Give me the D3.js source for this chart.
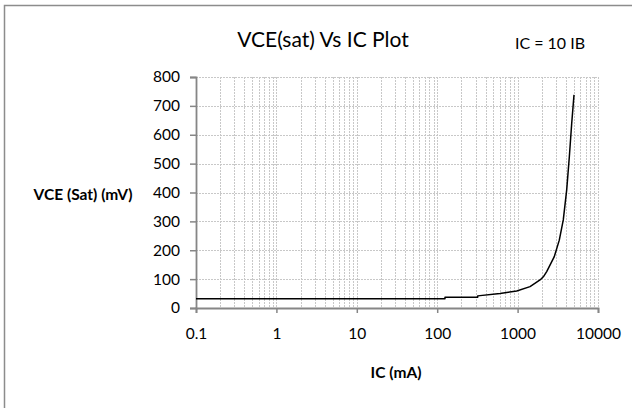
<!DOCTYPE html>
<html><head><meta charset="utf-8">
<script src="https://cdn.jsdelivr.net/npm/d3@7"></script>
<style>
html,body{margin:0;padding:0;background:#fff;}
svg{display:block;font-family:Lato,"Open Sans",sans-serif;}
</style></head>
<body>
<svg id="chart" width="632" height="408"></svg>
<script>
// Data (IC in mA, VCE(sat) in mV)
const icValues  = [0.1, 125, 125, 319, 319, 604, 975, 1427, 1900, 2090, 2300, 2860, 3300, 3700, 4080, 4400, 4710, 5030];
const vceValues = [32,  32,  37,  37,  42,  50,  59,  74,   97,   108,  126,  178,  235,  305,  409,  524,  640,  738];
const xTickLabels = ["0.1", "1", "10", "100", "1000", "10000"];
const yTickValues = [0, 100, 200, 300, 400, 500, 600, 700, 800];

const svg = d3.select("#chart");
const m = {left:196, right:598, top:77, bottom:308};

const x = d3.scaleLog().domain([0.1, 10000]).range([m.left, m.right]);
const y = d3.scaleLinear().domain([0, 800]).range([m.bottom, m.top]);

// outer frame
svg.append("rect").attr("x",4.5).attr("y",5.5).attr("width",700).attr("height",500)
  .attr("fill","none").attr("stroke","#8c8c8c").attr("stroke-width",1.5);

// minor + major vertical gridlines
const xGrid = [];
for (let e = -1; e < 4; e++) for (let k = 1; k <= 9; k++) xGrid.push(k*Math.pow(10,e));
xGrid.push(10000);
svg.append("g").selectAll("line").data(xGrid).join("line")
  .attr("x1",d=>Math.round(x(d))+0.5).attr("x2",d=>Math.round(x(d))+0.5)
  .attr("y1",m.top).attr("y2",m.bottom)
  .attr("stroke","#c8c8c8").attr("stroke-width",1).attr("stroke-dasharray","2,1");

// horizontal gridlines
svg.append("g").selectAll("line").data(yTickValues.slice(1)).join("line")
  .attr("x1",m.left).attr("x2",m.right)
  .attr("y1",d=>Math.round(y(d))+0.5).attr("y2",d=>Math.round(y(d))+0.5)
  .attr("stroke","#c8c8c8").attr("stroke-width",1).attr("stroke-dasharray","2,1");

// axes
const xAxis = d3.axisBottom(x).tickValues([0.1,1,10,100,1000,10000])
  .tickFormat((d,i)=>xTickLabels[i]).tickSize(5).tickPadding(15);
const gx = svg.append("g").attr("transform",`translate(0,${m.bottom})`).call(xAxis);
const yAxis = d3.axisLeft(y).tickValues(yTickValues).tickSize(6).tickPadding(10);
const gy = svg.append("g").attr("transform",`translate(${m.left},0)`).call(yAxis);
[gx,gy].forEach(g=>{
  g.select(".domain").attr("stroke","#868686").attr("stroke-width",1.8);
  g.selectAll(".tick line").attr("stroke","#868686").attr("stroke-width",1.5);
  g.selectAll(".tick text").attr("fill","#000").style("font-size","15.5px").style("font-family","Lato,'Open Sans',sans-serif");
});

// curve
const line = d3.line().x((d,i)=>x(icValues[i])).y((d,i)=>y(vceValues[i]));
svg.append("path").datum(vceValues).attr("d",line)
  .attr("fill","none").attr("stroke","#000").attr("stroke-width",1.5)
  .attr("stroke-linejoin","round");

// titles
svg.append("text").attr("x",323).attr("y",47).attr("text-anchor","middle")
  .style("font-size","21px").text("VCE(sat) Vs IC Plot");
svg.append("text").attr("x",550).attr("y",49).attr("text-anchor","middle")
  .style("font-size","16px").text("IC = 10  IB");
svg.append("text").attr("x",83).attr("y",200).attr("text-anchor","middle")
  .style("font-size","15.5px").style("font-weight","bold").text("VCE (Sat)  (mV)");
svg.append("text").attr("x",396).attr("y",378).attr("text-anchor","middle")
  .style("font-size","15.5px").style("font-weight","bold").text("IC (mA)");
</script>
</body></html>
